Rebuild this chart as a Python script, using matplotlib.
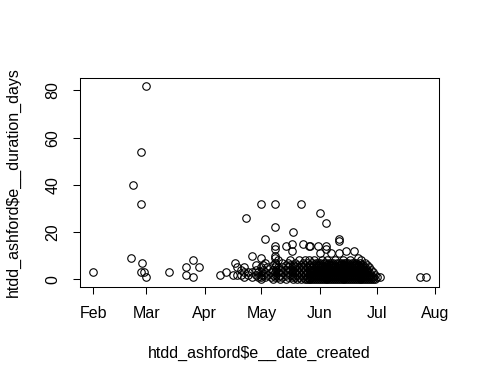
import datetime as dt

import matplotlib

matplotlib.use("Agg")
import matplotlib.dates as mdates
import matplotlib.pyplot as plt

YEAR = 2017

# sparse points before the busy period: (MM-DD, duration days)
early_dates = ["02-01", "02-21", "02-22", "02-26", "02-26", "02-27", "02-26", "02-28",
               "03-01", "03-01", "03-13", "03-22", "03-22", "03-26", "03-29", "03-26",
               "04-09", "04-12", "04-17", "04-18", "04-16", "04-18", "04-23"]
early_durations = [3, 9, 40, 54, 32, 7, 3, 3,
                   1, 82, 3, 5, 2, 8, 5, 1,
                   2, 3, 7, 5, 2, 2, 26]

# busier days: one list of durations per creation day
busy_days = ["04-20", "04-22", "04-24", "04-26", "04-28", "04-29", "05-01", "05-02",
             "05-03", "05-04", "05-06", "05-07", "05-08", "05-09", "05-10", "05-11",
             "05-12", "05-14", "05-15", "05-16", "05-17", "05-18", "05-19", "05-20",
             "05-21", "05-22", "05-23", "05-24", "05-25", "05-26", "05-27", "05-28",
             "05-29", "05-30", "05-31", "06-01", "06-02", "06-03", "06-04", "06-05",
             "06-06", "06-07", "06-08", "06-09", "06-10", "06-11", "06-12", "06-13",
             "06-14", "06-15", "06-16", "06-17", "06-18", "06-19", "06-20", "06-21",
             "06-22", "06-23", "06-24", "06-25", "06-26", "06-27", "06-28", "06-29",
             "06-30", "07-01", "07-03", "07-24", "07-27"]
busy_durations = [
    [2, 4], [1, 3, 5], [3, 2], [10, 3, 1], [2, 4, 6], [1, 3],
    [32, 9, 5, 3, 2, 1, 0], [4, 6, 2], [17, 7, 3, 1], [2, 5], [3, 1], [4, 6, 2, 0],
    [32, 22, 14, 13, 10, 9, 7, 5, 3, 1], [2, 4, 6], [1, 3, 5, 8], [2, 4, 0],
    [7, 3, 1, 5], [14, 6, 4, 2, 0], [3, 1, 5, 7], [2, 4, 6, 8],
    [15, 12, 3, 1, 5], [20, 6, 2, 4, 0], [1, 3, 5, 7], [2, 4, 6, 0],
    [3, 5, 1, 8], [32, 4, 2, 6, 0], [15, 1, 3, 5, 7], [2, 4, 6, 8, 0],
    [1, 3, 5, 7, 0], [14, 0, 2, 4, 6, 8],
    [0, 1, 2, 3, 4, 5, 6, 14], [0, 1, 2, 3, 4, 5, 7], [0, 1, 2, 3, 4, 6, 8],
    [0, 1, 2, 3, 5, 6, 7], [0, 1, 2, 3, 4, 5, 6, 7, 14],
    [0, 1, 2, 3, 4, 5, 6, 7, 11, 28], [0, 1, 2, 3, 4, 5, 6, 8],
    [0, 1, 2, 3, 4, 5, 7], [0, 1, 2, 3, 4, 5, 6, 7, 13, 14, 24],
    [0, 1, 2, 3, 4, 5, 6, 8], [0, 1, 2, 3, 4, 5, 6, 7],
    [0, 1, 2, 3, 4, 5, 6, 7, 11], [0, 1, 2, 3, 4, 5, 6, 7],
    [0, 1, 2, 3, 4, 5, 6, 8], [0, 1, 2, 3, 4, 5, 7],
    [0, 1, 2, 3, 4, 5, 6, 7, 11, 16, 17], [0, 1, 2, 3, 4, 5, 6, 7],
    [0, 1, 2, 3, 4, 5, 6, 8], [0, 1, 2, 3, 4, 5, 6, 7],
    [0, 1, 2, 3, 4, 5, 6, 7, 12], [0, 1, 2, 3, 4, 5, 6, 7],
    [0, 1, 2, 3, 4, 5, 6, 8], [0, 1, 2, 3, 4, 5, 6, 7],
    [0, 1, 2, 3, 4, 5, 6, 7, 12], [0, 1, 2, 3, 4, 5, 6, 7],
    [0, 1, 2, 3, 4, 5, 6, 9], [0, 1, 2, 3, 4, 5, 7],
    [0, 1, 2, 3, 4, 5, 6, 8], [0, 1, 2, 3, 4, 5, 6],
    [0, 1, 2, 3, 4, 5, 7], [0, 1, 2, 3, 4, 6], [0, 1, 2, 3, 5],
    [0, 1, 2, 4], [0, 1, 3], [0, 2], [1], [1], [1], [1],
]

month_ticks = ["02-01", "03-01", "04-01", "05-01", "06-01", "07-01", "08-01"]
month_labels = ["Feb", "Mar", "Apr", "May", "Jun", "Jul", "Aug"]


def to_date(md):
    m, d = md.split("-")
    return dt.date(YEAR, int(m), int(d))


xs = [to_date(d) for d in early_dates]
ys = list(early_durations)
for day, vals in zip(busy_days, busy_durations):
    for v in vals:
        xs.append(to_date(day))
        ys.append(v)

plt.rcParams["font.family"] = ["Liberation Sans", "DejaVu Sans"]
fig = plt.figure(figsize=(4.8, 3.84), dpi=100)
ax = fig.add_axes([80 / 480, 1 - 287 / 384, (439 - 80) / 480, (287 - 78) / 384])

ax.plot(xs, ys, linestyle="none", marker="o", markersize=5.4,
        markerfacecolor="none", markeredgecolor="black", markeredgewidth=0.8)

# R style 4% padding around data range
xnum = mdates.date2num(xs)
xr = xnum.max() - xnum.min()
ax.set_xlim(xnum.min() - 0.04 * xr, xnum.max() + 0.04 * xr)
yr = max(ys) - min(ys)
ax.set_ylim(min(ys) - 0.04 * yr, max(ys) + 0.04 * yr)

ax.set_xticks([to_date(d) for d in month_ticks])
ax.set_xticklabels(month_labels)
ax.set_yticks([0, 20, 40, 60, 80])
ax.set_yticklabels(["0", "20", "40", "60", "80"], rotation=90, va="center")

ax.tick_params(direction="out", length=5, width=0.75, labelsize=11.5, pad=9)
for s in ax.spines.values():
    s.set_linewidth(0.75)

fig.text(259 / 480, 1 - 353 / 384, "htdd_ashford\\$e__date_created",
         ha="center", va="center", fontsize=11.5)
fig.text(13 / 480, 1 - 182 / 384, "htdd_ashford\\$e__duration_days",
         ha="center", va="center", rotation=90, fontsize=11.5)

fig.savefig("out.png", dpi=100)
